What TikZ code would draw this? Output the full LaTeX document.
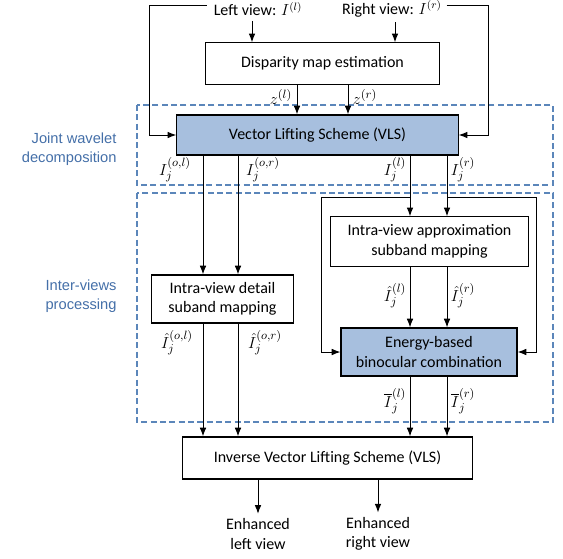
\documentclass[tikz,border=0pt]{standalone}
\usepackage{fontspec}
\setmainfont{Carlito}
\newfontfamily\labfont{Liberation Sans}
\usetikzlibrary{arrows.meta,positioning,calc}
\definecolor{boxblue}{RGB}{167,191,222}
\definecolor{dashblue}{RGB}{91,134,186}
\definecolor{labblue}{RGB}{68,111,168}

\tikzset{every picture/.style={line width=0.75pt}}
\tikzset{
  blk/.style={draw, line width=0.9pt, align=center, font=\fontsize{12}{14.5}\selectfont, inner sep=2pt},
  blkblue/.style={blk, fill=boxblue},
  arr/.style={-{Latex[length=6.5pt,width=5pt]}},
  grp/.style={draw=dashblue, dash pattern={on 4.5pt off 2.5pt}, line width=1pt},
  grplab/.style={text=labblue, align=right, anchor=east, inner sep=0pt, font=\labfont\fontsize{11}{14}\selectfont},
  mlab/.style={font=\fontsize{13}{15}\selectfont, inner sep=0pt},
  txt/.style={align=center, font=\fontsize{12}{14.5}\selectfont}
}

\begin{document}
\begin{tikzpicture}[x=0.75pt,y=0.75pt,yscale=-1,xscale=1]
\useasboundingbox (0,0) rectangle (563,558);

% group frames
\draw[grp] (137,105) rectangle (553,185);
\draw[grp] (137,193) rectangle (553,422);
\node[grplab] (gjoint) at (117,149) {Joint wavelet\\decomposition};
\node[grplab] (ginter) at (117,296) {Inter-views\\processing};

% inputs
\node[txt] (leftin) at (258,9) {Left view: $I^{(l)}$};
\node[txt] (rightin) at (392,9) {Right view: $I^{(r)}$};

% blocks
\node[blk, minimum width=176pt, minimum height=31pt] (disp) at (322.5,63.5) {Disparity map estimation};
\node[blkblue, minimum width=211pt, minimum height=30pt] (vls) at (317.5,135) {Vector Lifting Scheme (VLS)};
\node[blk, minimum width=106pt, minimum height=36pt] (detail) at (222.5,299) {Intra-view detail\\suband mapping};
\node[blk, minimum width=148pt, minimum height=37pt] (approx) at (429.5,241.5) {Intra-view approximation\\subband mapping};
\node[blkblue, minimum width=132pt, minimum height=36pt] (energy) at (429,352) {Energy-based\\binocular combination};
\node[blk, minimum width=217pt, minimum height=31.5pt] (inv) at (327.5,458) {Inverse Vector Lifting Scheme (VLS)};

% outputs
\node[txt] (outl) at (258,534) {Enhanced\\left view};
\node[txt] (outr) at (378,534) {Enhanced\\right view};

% columns
\coordinate (cl) at (252,0);
\coordinate (cr) at (395,0);
\coordinate (czl) at (297,0);
\coordinate (czr) at (348,0);
\coordinate (ca) at (203,0);
\coordinate (cb) at (238,0);
\coordinate (cc) at (410,0);
\coordinate (cd) at (447,0);
\coordinate (tapl) at (410,197);
\coordinate (tapr) at (447,197);

% connectors
\draw[arr] (leftin.south -| cl) -- (disp.north -| cl);
\draw[arr] (rightin.south -| cr) -- (disp.north -| cr);
\draw[arr] ($(leftin.west)+(-2,-4)$) -| ($(vls.west)+(-27,0)$) -- (vls.west);
\draw[arr] ($(rightin.east)+(0,-4)$) -| ($(vls.east)+(30,0)$) -- (vls.east);
\draw[arr] (disp.south -| czl) -- (vls.north -| czl);
\draw[arr] (disp.south -| czr) -- (vls.north -| czr);
\foreach \c in {ca,cb} {
  \draw[arr] (vls.south -| \c) -- (detail.north -| \c);
  \draw[arr] (detail.south -| \c) -- (inv.north -| \c);
}
\foreach \c in {cc,cd} {
  \draw[arr] (vls.south -| \c) -- (approx.north -| \c);
  \draw[arr] (approx.south -| \c) -- (energy.north -| \c);
  \draw[arr] (energy.south -| \c) -- (inv.north -| \c);
}
\draw[arr] (tapl) -| ($(energy.west)+(-19,0)$) -- (energy.west);
\draw[arr] (tapr) -| ($(energy.east)+(19,0)$) -- (energy.east);
\draw[arr] (inv.south -| outl) -- (outl.north);
\draw[arr] (inv.south -| outr) -- (outr.north);

% labels
\node[mlab] (lzl) at (281,97) {$z^{(l)}$};
\node[mlab] (lzr) at (365,97) {$z^{(r)}$};
\node[mlab] (lol) at (175,170) {$I_j^{(o,l)}$};
\node[mlab] (lor) at (263,170) {$I_j^{(o,r)}$};
\node[mlab] (ll) at (395,170) {$I_j^{(l)}$};
\node[mlab] (lr) at (463,170) {$I_j^{(r)}$};
\node[mlab] (hl) at (395,296) {$\hat{I}_j^{(l)}$};
\node[mlab] (hr) at (463,296) {$\hat{I}_j^{(r)}$};
\node[mlab] (hol) at (177,343) {$\hat{I}_j^{(o,l)}$};
\node[mlab] (hor) at (265,343) {$\hat{I}_j^{(o,r)}$};
\node[mlab] (bl) at (395,401) {$\overline{I}_j^{(l)}$};
\node[mlab] (br) at (463,401) {$\overline{I}_j^{(r)}$};

\end{tikzpicture}
\end{document}
